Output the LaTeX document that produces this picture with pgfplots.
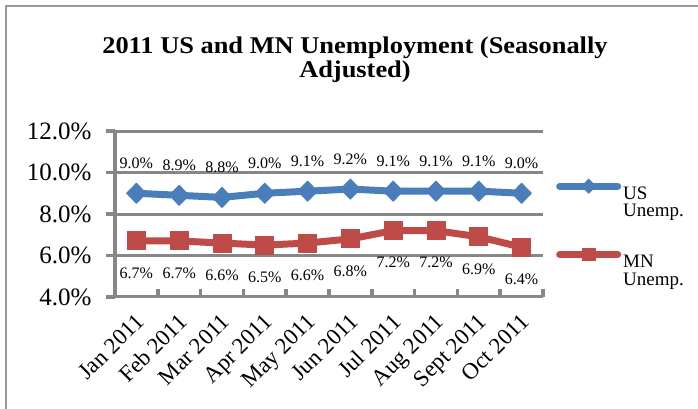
\documentclass[border=0pt]{standalone}
\usepackage{pgfplots}
\pgfplotsset{compat=1.18}
\usepackage{fontspec}
\setmainfont{Liberation Serif}
\definecolor{usblue}{HTML}{4A7EBB}
\definecolor{mnred}{HTML}{BE4B48}
\definecolor{gridgray}{HTML}{878787}
\definecolor{framegray}{HTML}{9A9A9A}
\begin{document}
\begin{tikzpicture}[x=1pt,y=1pt]
\path[use as bounding box] (0,0) rectangle (698,409);
\draw[framegray,line width=2.5pt] (6,0) -- (6,403) -- (698,403);
\begin{axis}[
 at={(115pt,112pt)}, anchor=south west,
 scale only axis, width=428pt, height=166pt,
 clip=false,
 xmin=-0.5, xmax=9.5, ymin=4, ymax=12,
 xtick={0,...,9},
 xticklabels={Jan 2011,Feb 2011,Mar 2011,Apr 2011,May 2011,Jun 2011,Jul 2011,Aug 2011,Sept 2011,Oct 2011},
 minor xtick={-0.5,0.5,...,9.5},
 tick style={draw=gridgray,line width=3.5pt},
 major x tick style={draw=none},
 minor tick length=8pt,
 xtick align=inside,
 ytick={4,6,...,12},
 ytick align=outside,
 major tick length=9pt,
 ymajorgrids, grid style={gridgray,line width=3pt},
 axis x line*=bottom, axis y line*=left,
 axis line style={gridgray,line width=3pt,-},
 /pgf/number format/assume math mode=true,
 yticklabel={\pgfmathprintnumber[fixed,fixed zerofill,precision=1]{\tick}\%},
 yticklabel style={font=\fontsize{25}{25}\selectfont, xshift=-11pt},
 xticklabel style={font=\fontsize{23}{23}\selectfont, xshift=-2pt, yshift=-15pt, rotate=45, anchor=north east, inner sep=0pt},
 title={\scalebox{1.1}[1]{\begin{tabular}{@{}c@{}}2011 US and MN Unemployment (Seasonally\\[-1pt]Adjusted)\end{tabular}}},
 title style={font=\fontsize{24}{25}\selectfont\bfseries, at={(0.5,1)}, anchor=south, xshift=26pt, yshift=40pt, inner sep=0pt},
 legend style={at={(1,1)}, anchor=north west, xshift=13pt, yshift=-48pt, draw=none, fill=none, inner sep=0pt,
   font=\fontsize{19}{21}\selectfont, row sep=55pt},
 legend cell align=left,
 legend image code/.code={\draw[mark repeat=2,mark phase=2,#1,every mark/.append style={scale=0.7},line cap=round] plot coordinates {(0pt,0pt) (29pt,0pt) (58pt,0pt)};},
]
\addplot[usblue, line width=7pt, line join=round, mark=diamond*, mark size=10pt,
  mark options={xscale=1.3, line width=1pt},
  nodes near coords={\pgfmathprintnumber[fixed,fixed zerofill,precision=1]{\pgfplotspointmeta}\%},
  every node near coord/.append style={font=\fontsize{16}{16}\selectfont, text=black, anchor=center, yshift=30pt}]
 coordinates {(0,9.0) (1,8.9) (2,8.8) (3,9.0) (4,9.1) (5,9.2) (6,9.1) (7,9.1) (8,9.1) (9,9.0)};
\addlegendentry{\smash{\raisebox{-14pt}{\begin{tabular}[t]{@{}l@{}}US\\[-3.5pt]Unemp.\end{tabular}}}}
\addplot[mnred, line width=7pt, line join=round, mark=square*, mark size=9pt,
  mark options={line width=1pt},
  nodes near coords={\pgfmathprintnumber[fixed,fixed zerofill,precision=1]{\pgfplotspointmeta}\%},
  every node near coord/.append style={font=\fontsize{16}{16}\selectfont, text=black, anchor=center, yshift=-32pt}]
 coordinates {(0,6.7) (1,6.7) (2,6.6) (3,6.5) (4,6.6) (5,6.8) (6,7.2) (7,7.2) (8,6.9) (9,6.4)};
\addlegendentry{\smash{\raisebox{-14pt}{\begin{tabular}[t]{@{}l@{}}MN\\[-3.5pt]Unemp.\end{tabular}}}}
\end{axis}
\end{tikzpicture}
\end{document}
